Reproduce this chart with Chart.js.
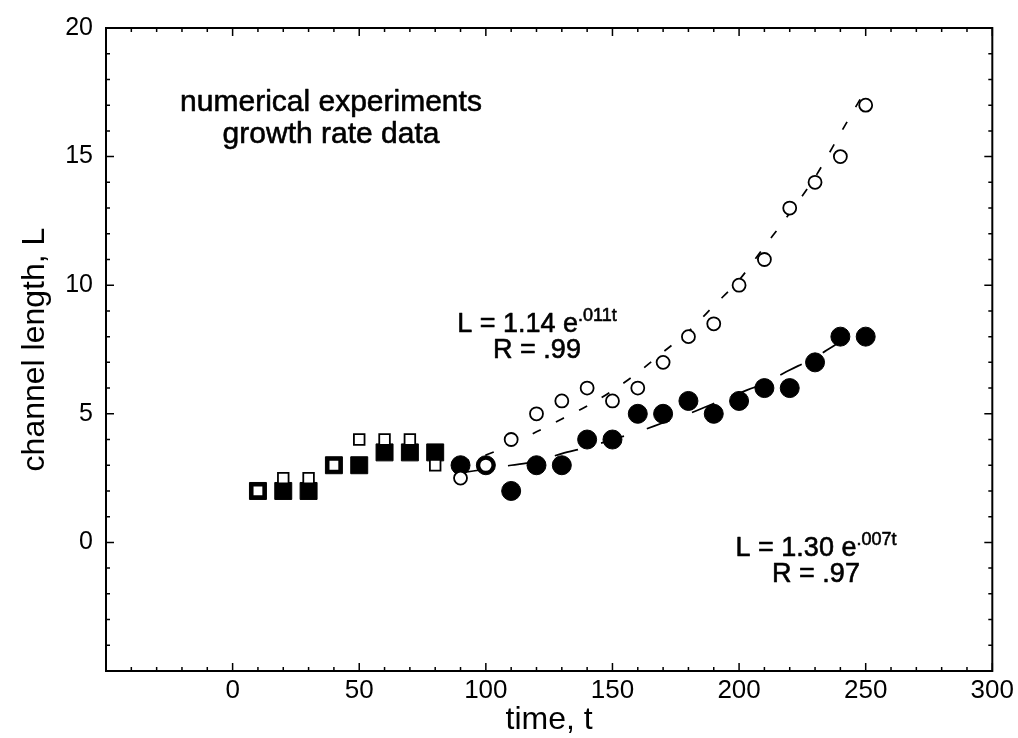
<!DOCTYPE html>
<html>
<head>
<meta charset="utf-8">
<script src="https://cdn.jsdelivr.net/npm/chart.js@4/dist/chart.umd.min.js"></script>
<style>
  body { margin: 0; background: #fff; }
  canvas { display: block; }
</style>
</head>
<body>
<canvas id="chart" width="1018" height="738"></canvas>
<script>
// time values of the experiments
var times = [10, 20, 30, 40, 50, 60, 70, 80, 90, 100, 110, 120, 130, 140, 150, 160, 170, 180, 190, 200, 210, 220, 230, 240, 250];
// channel length, filled markers (squares up to t=80, circles after)
var filledL = [2, 2, 2, 3, 3, 3.5, 3.5, 3.5, 3, 3, 2, 3, 3, 4, 4, 5, 5, 5.5, 5, 5.5, 6, 6, 7, 8, 8];
// channel length, open markers
var openL = [2, 2.5, 2.5, 3, 4, 4, 4, 3, 2.5, 3, 4, 5, 5.5, 6, 5.5, 6, 7, 8, 8.5, 10, 11, 13, 14, 15, 17];

// fitted curves
var openFitT = [90, 100, 110, 120, 130, 140, 150, 160, 170, 180, 190, 200, 210, 220, 230, 240, 250];
var openFitL = [3.1, 3.4, 3.8, 4.3, 4.8, 5.3, 5.9, 6.6, 7.4, 8.2, 9.2, 10.2, 11.5, 12.8, 14.2, 15.9, 17.6];
var filledFitT = [90, 100, 110, 120, 130, 140, 150, 160, 170, 180, 190, 200, 210, 220, 230, 240];
var filledFitL = [2.7, 2.85, 3.0, 3.15, 3.45, 3.7, 4.0, 4.3, 4.65, 5.0, 5.4, 5.8, 6.2, 6.7, 7.2, 7.8];

var xTicksLabeled = [0, 50, 100, 150, 200, 250, 300];
var yTicksLabeled = [0, 5, 10, 15, 20];

function pts(xs, ys) {
  return xs.map(function (x, i) { return { x: x, y: ys[i] }; });
}

var sans = "'Liberation Sans', Arial, Helvetica, sans-serif";

var frameTicks = {
  id: 'frameTicks',
  afterDraw: function (chart) {
    var ctx = chart.ctx, a = chart.chartArea, x = chart.scales.x, y = chart.scales.y;
    ctx.save();
    ctx.strokeStyle = '#000';
    ctx.lineWidth = 2;
    ctx.strokeRect(a.left, a.top, a.right - a.left, a.bottom - a.top);
    ctx.lineWidth = 1.5;
    ctx.beginPath();
    for (var t = -50; t <= 300; t += 10) {
      var px = x.getPixelForValue(t);
      var len = t % 50 === 0 ? 8 : 4;
      ctx.moveTo(px, a.bottom); ctx.lineTo(px, a.bottom - len);
      ctx.moveTo(px, a.top); ctx.lineTo(px, a.top + len);
    }
    for (var v = -5; v <= 20; v += 1) {
      var py = y.getPixelForValue(v);
      var l2 = v % 5 === 0 ? 8 : 4;
      ctx.moveTo(a.left, py); ctx.lineTo(a.left + l2, py);
      ctx.moveTo(a.right, py); ctx.lineTo(a.right - l2, py);
    }
    ctx.stroke();

    // annotations, a thin stroke gives the heavier print look
    ctx.fillStyle = '#000';
    ctx.lineWidth = 0.6;
    ctx.lineJoin = 'round';
    function txt(s, tx, ty) {
      ctx.fillText(s, tx, ty);
      ctx.strokeText(s, tx, ty);
    }
    ctx.textAlign = 'center';
    ctx.textBaseline = 'alphabetic';
    ctx.font = '30px ' + sans;
    txt('numerical experiments', 331, 111);
    txt('growth rate data', 331, 143);

    function eq(cx, base, main, sup, r) {
      ctx.textAlign = 'left';
      ctx.font = '27px ' + sans;
      var w1 = ctx.measureText(main).width;
      ctx.font = '18px ' + sans;
      var w2 = ctx.measureText(sup).width;
      var x0 = cx - (w1 + w2) / 2;
      ctx.font = '27px ' + sans;
      txt(main, x0, base);
      ctx.font = '18px ' + sans;
      txt(sup, x0 + w1, base - 11);
      ctx.textAlign = 'center';
      ctx.font = '27px ' + sans;
      txt(r, cx, base + 26);
    }
    eq(537, 332, 'L = 1.14 e', '.011t', 'R = .99');
    eq(816, 556, 'L = 1.30 e', '.007t', 'R = .97');
    ctx.restore();
  }
};

new Chart(document.getElementById('chart'), {
  type: 'scatter',
  data: {
    datasets: [
      {
        label: 'open',
        data: pts(times, openL),
        pointStyle: times.map(function (t) { return t < 90 ? 'rect' : 'circle'; }),
        pointRadius: times.map(function (t) { return t < 90 ? 7.5 : 6.5; }),
        backgroundColor: '#fff',
        borderColor: '#000',
        pointBorderWidth: 1.8,
        order: 0
      },
      {
        label: 'filled',
        data: pts(times, filledL),
        pointStyle: times.map(function (t) { return t < 90 ? 'rect' : 'circle'; }),
        pointRadius: times.map(function (t) { return t < 90 ? 12 : 9.5; }),
        backgroundColor: '#000',
        borderColor: '#000',
        pointBorderWidth: 1,
        order: 1
      },
      {
        type: 'line',
        label: 'open fit',
        data: pts(openFitT, openFitL),
        borderColor: '#000',
        borderWidth: 1.7,
        borderDash: [9, 17],
        pointRadius: 0,
        cubicInterpolationMode: 'monotone',
        fill: false,
        order: 2
      },
      {
        type: 'line',
        label: 'filled fit',
        data: pts(filledFitT, filledFitL),
        borderColor: '#000',
        borderWidth: 1.7,
        borderDash: [24, 24],
        pointRadius: 0,
        cubicInterpolationMode: 'monotone',
        fill: false,
        order: 3
      }
    ]
  },
  options: {
    responsive: false,
    animation: false,
    layout: { padding: { top: 27, right: 24, left: 0, bottom: 0 } },
    plugins: { legend: { display: false }, tooltip: { enabled: false } },
    scales: {
      x: {
        type: 'linear',
        min: -50,
        max: 300,
        grid: { display: false, drawTicks: false },
        border: { display: false },
        ticks: {
          stepSize: 10,
          autoSkip: false,
          maxRotation: 0,
          padding: 4,
          color: '#000',
          font: { family: sans, size: 26 },
          callback: function (v) { return xTicksLabeled.indexOf(v) >= 0 ? String(v) : ''; }
        },
        title: {
          display: true,
          text: 'time, t',
          color: '#000',
          font: { family: sans, size: 32, lineHeight: 1 },
          padding: { top: 0, bottom: 2 }
        },
        afterFit: function (s) { s.height = 67; }
      },
      y: {
        type: 'linear',
        min: -5,
        max: 20,
        grid: { display: false, drawTicks: false },
        border: { display: false },
        ticks: {
          stepSize: 1,
          autoSkip: false,
          padding: 13,
          color: '#000',
          font: { family: sans, size: 25 },
          callback: function (v) { return yTicksLabeled.indexOf(v) >= 0 ? String(v) : ''; }
        },
        title: {
          display: true,
          text: 'channel length, L',
          color: '#000',
          font: { family: sans, size: 32, lineHeight: 1 },
          padding: { top: 19, bottom: 0 }
        },
        afterFit: function (s) { s.width = 106; }
      }
    }
  },
  plugins: [frameTicks]
});
</script>
</body>
</html>
